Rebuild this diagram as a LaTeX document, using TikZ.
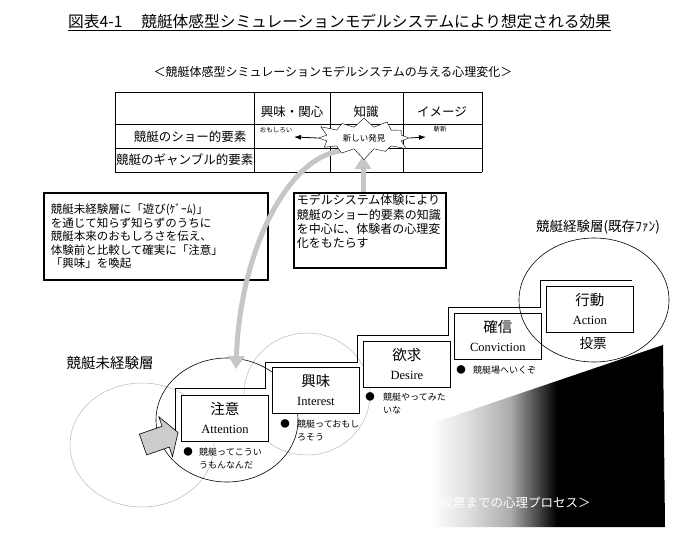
\documentclass[tikz,border=0pt]{standalone}
\usepackage{fontspec}
\setmainfont{Liberation Serif}
\newfontfamily\jp{Noto Sans CJK JP}
\usepackage{tikz}
\usetikzlibrary{arrows.meta,shapes.symbols,calc}

\newcommand\eng[1]{{\rmfamily\fontsize{12.5}{14}\selectfont #1}}
\colorlet{fadeA}{gray!25}
\colorlet{fadeB}{gray!65}
\pgfdeclarehorizontalshading{blackfade}{100bp}{color(0bp)=(white); color(25bp)=(white);
  color(33bp)=(fadeA); color(42bp)=(fadeB); color(52bp)=(black); color(100bp)=(black)}

\begin{document}
\begin{tikzpicture}[x=1pt, y=-1pt]
\tikzstyle{stage}=[rectangle,
                   draw=black,
                   fill=white,
                   line width=0.8pt,
                   minimum width=87pt,
                   minimum height=46pt,
                   inner sep=0pt,
                   anchor=north west,
                   align=center,
                   font=\jp\fontsize{14.5}{19}\selectfont]
\tikzstyle{note}=[rectangle,
                  draw=black,
                  fill=white,
                  line width=1.5pt,
                  anchor=north west,
                  align=left]
\tikzstyle{hint}=[inner sep=0pt, anchor=north west, align=left,
                  font=\jp\fontsize{9}{13}\selectfont]
\tikzstyle{dot}=[inner sep=0pt, font=\jp\fontsize{9.5}{9.5}\selectfont]
\tikzstyle{cell}=[inner sep=0pt, font=\jp\fontsize{12.5}{14}\selectfont]
\tikzstyle{tiny}=[inner sep=0pt, font=\jp\fontsize{6.5}{6.5}\selectfont]
\tikzstyle{halo}=[draw=gray!55, line width=0.5pt]
\tikzstyle{ring}=[draw=black, line width=0.6pt]
\tikzstyle{bigarrow}=[draw=gray!45, line width=5pt,
                      -{Triangle[width=16pt,length=13pt]}]

\fill[white] (0,0) rectangle (700,559);
\useasboundingbox (0,0) rectangle (700,559);

% title
\node[inner sep=0pt, anchor=base west, font=\jp\fontsize{15.7}{15.7}\selectfont]
  (title) at (68,27.5)
  {図表4-1\hspace{1.2em}競艇体感型シミュレーションモデルシステムにより想定される効果};
\draw[line width=0.8pt] ([yshift=-1pt]title.south west) -- ([yshift=-1pt]title.south east);

\node[font=\jp\fontsize{12}{12}\selectfont] (subtitle) at (333,72)
  {＜競艇体感型シミュレーションモデルシステムの与える心理変化＞};

% table
\foreach \y in {92,124,148,172}
  \draw[line width=0.7pt] (115,\y) -- (482,\y);
\foreach \x in {115,254,330,403,482}
  \draw[line width=0.7pt] (\x,92) -- (\x,172);

\node[cell] (hdrA) at (292,112) {興味・関心};
\node[cell] (hdrB) at (366,112) {知識};
\node[cell] (hdrC) at (442,112) {イメージ};
\node[cell] (rowA) at (190,137) {競艇のショー的要素};
\node[cell, anchor=west] (rowB) at (116,160) {競艇のギャンブル的要素};

% circles behind the steps
\draw[halo] (142,445) ellipse [x radius=72, y radius=62];
\draw[halo] (307,394) ellipse [x radius=63, y radius=61];
\draw[ring] (227,420) ellipse [x radius=71, y radius=62];

% process shading
\shade[shading=blackfade] (430,424) -- (663,345) -- (665,527) -- (430,527) -- cycle;
\node[white, anchor=west, inner sep=0pt, font=\jp\fontsize{12.5}{12.5}\selectfont]
  (process) at (428,503) {＜投票までの心理プロセス＞};

% steps
\draw[line width=0.8pt] (175,441) -- (175,388) -- (265,388) -- (265,362) -- (357,362)
  -- (357,335) -- (448,335) -- (448,307) -- (540,307) -- (540,280) -- (632,280);

\node[stage] (att) at (181,395) {注意\\\eng{Attention}};
\node[stage] (intr) at (272,367) {興味\\\eng{Interest}};
\node[stage] (des) at (363,341) {欲求\\\eng{Desire}};
\node[stage] (conv) at (454,313) {確信\\\eng{Conviction}};
\node[stage] (act) at (546,286) {行動\\\eng{Action}};

\node[dot] (attdot) at (188,452) {●};
\node[hint] (atthint) at (199,448) {競艇ってこうい\\うもんなんだ};
\node[dot] (intdot) at (285,424) {●};
\node[hint] (inthint) at (297,420) {競艇っておもし\\ろそう};
\node[dot] (desdot) at (370,397) {●};
\node[hint] (deshint) at (383,393) {競艇やってみた\\いな};
\node[dot] (convdot) at (461,370) {●};
\node[hint] (convhint) at (473,366) {競艇場へいくぞ};
\node[font=\jp\fontsize{13.5}{13.5}\selectfont] (vote) at (593,343) {投票};

\draw[ring] (594,300) ellipse [x radius=75, y radius=62];

\node[font=\jp\fontsize{14.5}{14.5}\selectfont] (novice) at (110,363) {競艇未経験層};
\node[font=\jp\fontsize{13.5}{13.5}\selectfont] (fans) at (598,227) {競艇経験層(既存ﾌｧﾝ)};

% entry arrow
\filldraw[fill=gray!40, draw=black, line width=0.6pt]
  (139.4,434.1) -- (162.1,426.3) -- (158.9,416.8) -- (178,432.5)
  -- (172.5,456.6) -- (169.3,447.1) -- (146.6,454.9) -- cycle;

% notes
\node[note, text width=210pt, minimum height=87pt, inner xsep=7pt,
      font=\jp\fontsize{11.5}{13.6}\selectfont] (gamenote) at (43,192)
  {競艇未経験層に「遊び(ｹﾞｰﾑ)」\\
   を通じて知らず知らずのうちに\\
   競艇本来のおもしろさを伝え、\\
   体験前と比較して確実に「注意」\\
   「興味」を喚起};
\node[note, inner xsep=3pt, inner ysep=2pt] (sysnote) at (293,192)
  {\parbox[c][71pt][t]{146pt}{\jp\fontsize{12}{14.3}\selectfont
   モデルシステム体験により\\
   競艇のショー的要素の知識\\
   を中心に、体験者の心理変\\
   化をもたらす}};

% gray arrows
\coordinate (arcstart) at (340,151);
\coordinate (arcend) at (236,369);
\draw[bigarrow] (arcstart) .. controls (288,158) and (240,250) .. (arcend);
\coordinate (burstfoot) at (363,156);
\draw[bigarrow] (sysnote.north -| burstfoot) -- (burstfoot);

% starburst in the table
\coordinate (funtip) at (294,137);
\coordinate (freshtip) at (426,137);
\node[tiny] (fun) at (276,130) {おもしろい};
\node[tiny] (fresh) at (440,129) {斬新};
\node[starburst, draw, fill=white, starburst points=12, starburst point height=12pt,
      inner xsep=6pt, inner ysep=4pt,
      font=\jp\fontsize{8.5}{8.5}\selectfont] (burst) at (364,138) {新しい発見};
\draw[thick, -{Latex[length=7pt,width=5pt]}] (burst.west) -- (funtip);
\draw[thick, -{Latex[length=7pt,width=5pt]}] (burst.east) -- (freshtip);

\end{tikzpicture}
\end{document}
